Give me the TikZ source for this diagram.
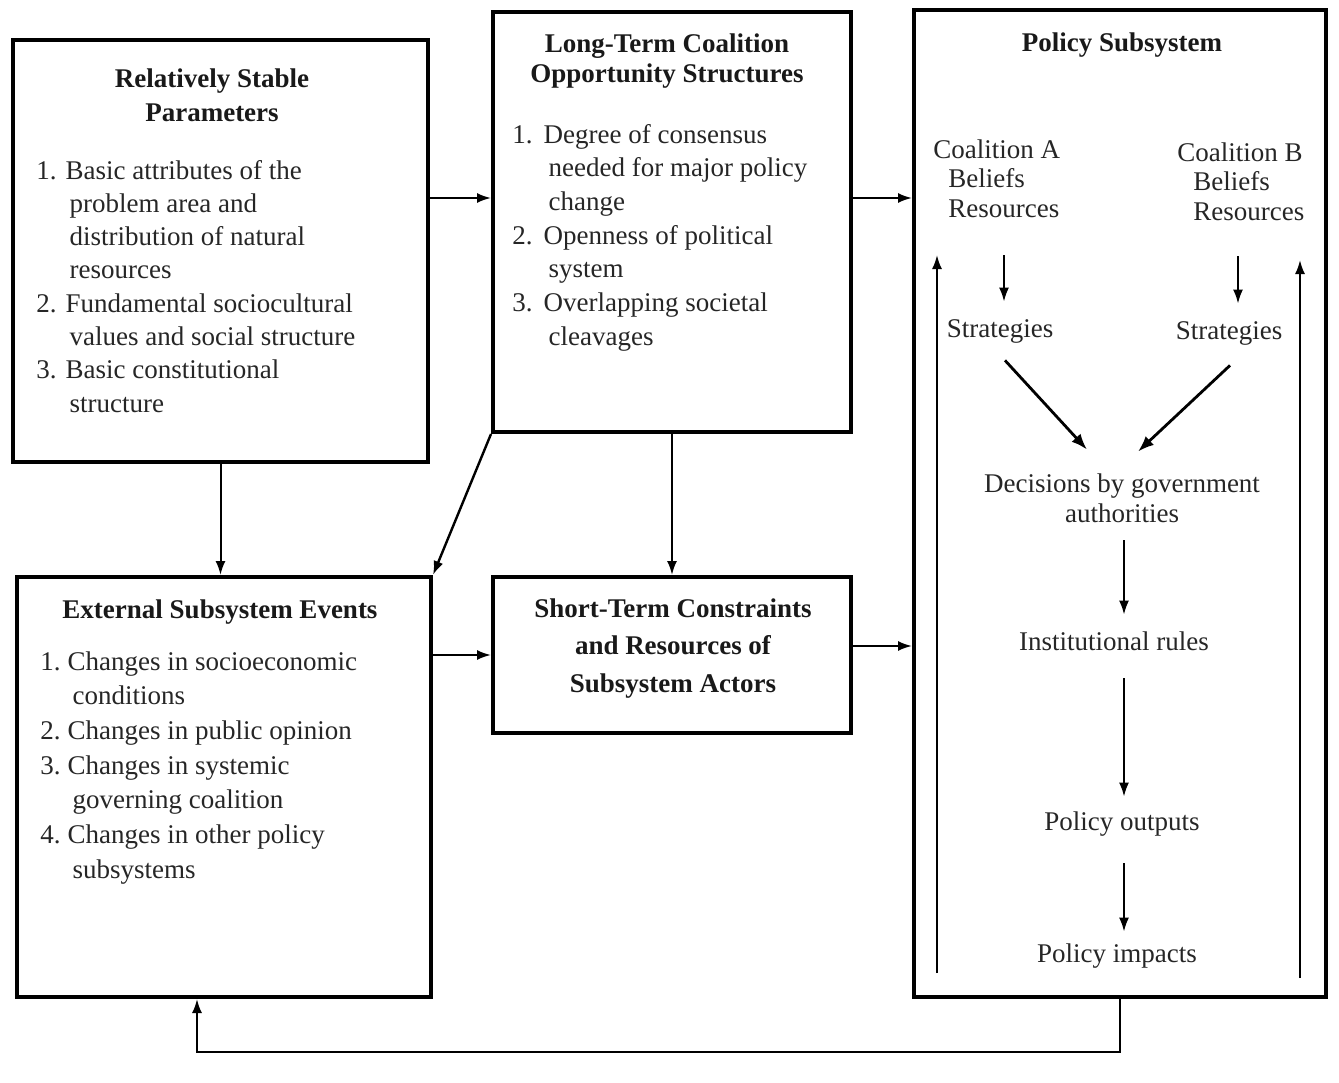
\documentclass[tikz,border=0pt]{standalone}
\usepackage{fontspec}
\setmainfont{Liberation Serif}
\usetikzlibrary{arrows.meta,fit,calc}
\begin{document}
\begin{tikzpicture}[x=0.5pt,y=-0.5pt,
  box/.style={draw, line width=2pt, inner sep=0pt},
  arr/.style={-{Latex[length=7pt,width=5pt]}, line width=1pt},
  darr/.style={-{Latex[length=8pt,width=6pt]}, line width=1.4pt},
  lst/.style={inner sep=0pt, text=black!85, font={\fontsize{13.5}{#1}\selectfont}},
  ttl/.style={inner sep=0pt, text=black!90, font={\fontsize{13.5}{#1}\selectfont\bfseries}},
  one/.style={inner sep=0pt, text height=9pt, text depth=3pt, text=black!85, font={\fontsize{13.5}{16}\selectfont}}
]
\useasboundingbox (0,0) rectangle (1339,1082);

% ---------- boxes ----------
\coordinate (b1nw) at (13,40);   \coordinate (b1se) at (428,462);
\coordinate (b2nw) at (493,12);  \coordinate (b2se) at (851,432);
\coordinate (b3nw) at (914,10);  \coordinate (b3se) at (1326,997);
\coordinate (b4nw) at (17,577);  \coordinate (b4se) at (431,997);
\coordinate (b5nw) at (493,577); \coordinate (b5se) at (851,733);
\node[box, fit=(b1nw)(b1se)] (b1) {};
\node[box, fit=(b2nw)(b2se)] (b2) {};
\node[box, fit=(b3nw)(b3se)] (b3) {};
\node[box, fit=(b4nw)(b4se)] (b4) {};
\node[box, fit=(b5nw)(b5se)] (b5) {};

% ---------- box 1 ----------
\node[ttl=17, anchor=base] (t1) at (212,87)
  {\begin{tabular}[t]{@{}c@{}}Relatively Stable\\Parameters\end{tabular}};
\node[lst=16.65, anchor=base west] (l1) at (36,179)
  {\begin{tabular}[t]{@{}l@{\hspace{4.5pt}}l@{}}
  1. & Basic attributes of the\\
     & \hspace{2pt}problem area and\\
     & \hspace{2pt}distribution of natural\\
     & \hspace{2pt}resources\\
  2. & Fundamental sociocultural\\
     & \hspace{2pt}values and social structure\\
  3. & Basic constitutional\\
     & \hspace{2pt}structure
  \end{tabular}};

% ---------- box 2 ----------
\node[ttl=15, anchor=base] (t2) at (667,52)
  {\begin{tabular}[t]{@{}c@{}}Long-Term Coalition\\Opportunity Structures\end{tabular}};
\node[lst=16.85, anchor=base west] (l2) at (512,143)
  {\begin{tabular}[t]{@{}l@{\hspace{5.5pt}}l@{}}
  1. & Degree of consensus\\
     & \hspace{2.5pt}needed for major policy\\
     & \hspace{2.5pt}change\\
  2. & Openness of political\\
     & \hspace{2.5pt}system\\
  3. & Overlapping societal\\
     & \hspace{2.5pt}cleavages
  \end{tabular}};

% ---------- box 4 ----------
\node[ttl=16, anchor=base] (t4) at (220,618) {External Subsystem Events};
\node[lst=17.35, anchor=base west] (l4) at (40,670)
  {\begin{tabular}[t]{@{}l@{\hspace{3.5pt}}l@{}}
  1. & Changes in socioeconomic\\
     & \hspace{2.5pt}conditions\\
  2. & Changes in public opinion\\
  3. & Changes in systemic\\
     & \hspace{2.5pt}governing coalition\\
  4. & Changes in other policy\\
     & \hspace{2.5pt}subsystems
  \end{tabular}};

% ---------- box 5 ----------
\node[ttl=18.75, anchor=base] (t5) at (673,617)
  {\begin{tabular}[t]{@{}c@{}}Short-Term Constraints\\and Resources of\\Subsystem Actors\end{tabular}};

% ---------- box 3 (policy subsystem) ----------
\node[ttl=16, anchor=base] (t3) at (1122,51) {Policy Subsystem};
\node[lst=14.75, anchor=base west] (coalA) at (933,158)
  {\begin{tabular}[t]{@{}l@{}}Coalition A\\\hspace{7.5pt}Beliefs\\\hspace{7.5pt}Resources\end{tabular}};
\node[lst=14.75, anchor=base west] (coalB) at (1177,161)
  {\begin{tabular}[t]{@{}l@{}}Coalition B\\\hspace{8pt}Beliefs\\\hspace{8pt}Resources\end{tabular}};
\node[one, anchor=base] (stratA) at (1000,337) {Strategies};
\node[one, anchor=base] (stratB) at (1229,339) {Strategies};
\node[lst=15, anchor=base] (dec) at (1122,492)
  {\begin{tabular}[t]{@{}c@{}}Decisions by government\\authorities\end{tabular}};
\node[one, anchor=base] (inst) at (1114,650) {Institutional rules};
\node[one, anchor=base] (outp) at (1122,830) {Policy outputs};
\node[one, anchor=base] (imp) at (1117,962) {Policy impacts};

\coordinate (xA) at (1004,0);
\coordinate (xB) at (1238,0);
\coordinate (xC) at (1124,0);
\draw[arr, shorten <=14.5pt, shorten >=8.5pt] (coalA.south -| xA) -- (stratA.north -| xA);
\draw[arr, shorten <=13.5pt, shorten >=8.5pt] (coalB.south -| xB) -- (stratB.north -| xB);
\draw[darr] ([xshift=2.5pt,yshift=-8.5pt]stratA.south) -- ([xshift=-17.5pt,yshift=10.5pt]dec.north);
\draw[darr] ([xshift=0.5pt,yshift=-10pt]stratB.south) -- ([xshift=8pt,yshift=9.5pt]dec.north);
\draw[arr, shorten <=4.5pt, shorten >=8.5pt] (dec.south -| xC) -- (inst.north -| xC);
\draw[arr, shorten <=11pt, shorten >=7.5pt] (inst.south -| xC) -- (outp.north -| xC);
\draw[arr, shorten <=13.5pt, shorten >=6pt] (outp.south -| xC) -- (imp.north -| xC);

\coordinate (upAbot) at (937,973);  \coordinate (upAtop) at (937,255);
\coordinate (upBbot) at (1300,978); \coordinate (upBtop) at (1300,260);
\draw[arr] (upAbot) -- (upAtop);
\draw[arr] (upBbot) -- (upBtop);

% ---------- connectors between boxes ----------
\coordinate (r1) at (0,198);
\coordinate (r3) at (0,646);
\coordinate (fb) at (197,1052);
\draw[arr] (b1.east |- r1) -- (b2.west |- r1);
\draw[arr] (b2.east |- r1) -- (b3.west |- r1);
\draw[arr] (b1.south) -- (b1.south |- b4.north);
\draw[arr, line width=1.2pt] (b2.south west) -- (b4.north east);
\draw[arr] (b2.south) -- (b5.north);
\draw[arr] (b4.east |- b5.west) -- (b5.west);
\draw[arr] (b5.east |- r3) -- (b3.west |- r3);
\draw[arr] (b3.south) |- (fb) -- (fb |- b4.south);
\end{tikzpicture}
\end{document}
